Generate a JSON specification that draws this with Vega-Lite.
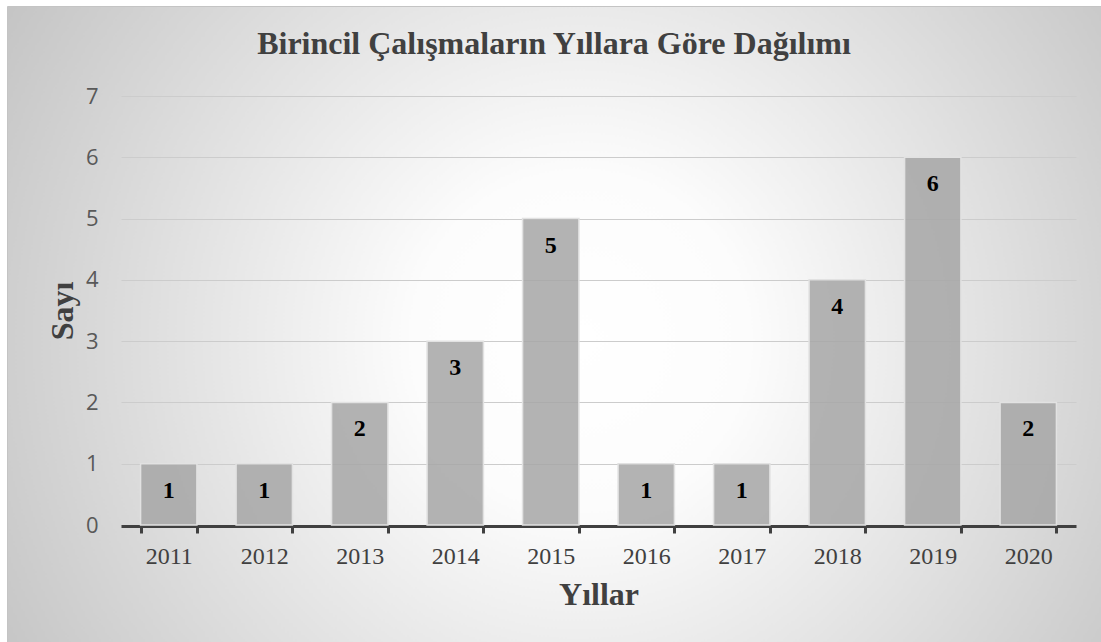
{
  "$schema": "https://vega.github.io/schema/vega-lite/v6.json",
  "autosize": "none",
  "width": 1094,
  "height": 636,
  "padding": {"left": 7, "top": 6, "right": 0, "bottom": 0},
  "background": "#ffffff",
  "view": {
    "fill": {
      "gradient": "radial",
      "x1": 0.524, "y1": 0.515, "r1": 0,
      "x2": 0.524, "y2": 0.515, "r2": 0.61,
      "stops": [
        {"offset": 0, "color": "#ffffff"},
        {"offset": 0.25, "color": "#fcfcfc"},
        {"offset": 1, "color": "#c4c4c4"}
      ]
    },
    "stroke": "#c4c4c4",
    "strokeWidth": 1
  },
  "title": {
    "text": "Birincil Çalışmaların Yıllara Göre Dağılımı",
    "font": "Liberation Serif",
    "fontSize": 32,
    "fontWeight": "bold",
    "color": "#404040",
    "anchor": "middle",
    "baseline": "alphabetic",
    "offset": -80
  },
  "data": {
    "values": [
      {"Yil": "2011", "Sayi": 1},
      {"Yil": "2012", "Sayi": 1},
      {"Yil": "2013", "Sayi": 2},
      {"Yil": "2014", "Sayi": 3},
      {"Yil": "2015", "Sayi": 5},
      {"Yil": "2016", "Sayi": 1},
      {"Yil": "2017", "Sayi": 1},
      {"Yil": "2018", "Sayi": 4},
      {"Yil": "2019", "Sayi": 6},
      {"Yil": "2020", "Sayi": 2}
    ]
  },
  "encoding": {
    "x": {
      "field": "Yil",
      "type": "nominal",
      "sort": null,
      "scale": {"type": "band", "range": [114, 1069], "paddingInner": 0.41, "paddingOuter": 0.205},
      "axis": {
        "title": "Yıllar",
        "orient": "bottom",
        "offset": -116,
        "labelAngle": 0,
        "labelFont": "Liberation Serif",
        "labelFontSize": 24,
        "labelColor": "#404040",
        "labelPadding": 11,
        "domain": true,
        "domainColor": "#404040",
        "domainWidth": 3,
        "ticks": true,
        "tickBand": "extent",
        "tickColor": "#404040",
        "tickWidth": 3,
        "tickSize": 7,
        "grid": false,
        "titleFont": "Liberation Serif",
        "titleFontSize": 32,
        "titleFontWeight": "bold",
        "titleColor": "#404040",
        "titlePadding": 11
      }
    },
    "y": {
      "field": "Sayi",
      "type": "quantitative",
      "scale": {"domain": [0, 7], "range": [519, 90], "nice": false, "zero": true},
      "axis": {
        "title": "Sayı",
        "orient": "left",
        "offset": -114,
        "values": [0, 1, 2, 3, 4, 5, 6, 7],
        "domain": false,
        "ticks": false,
        "tickSize": 0,
        "labelPadding": 23,
        "labelFont": "Open Sans",
        "labelFontSize": 22,
        "labelColor": "#595959",
        "grid": true,
        "gridColor": "#cccccc",
        "gridWidth": 1.2,
        "titleFont": "Liberation Serif",
        "titleFontSize": 32,
        "titleFontWeight": "bold",
        "titleColor": "#404040",
        "titlePadding": 6
      }
    }
  },
  "layer": [
    {
      "mark": {"type": "bar", "fill": "#a6a6a6", "fillOpacity": 0.85, "stroke": "#e2e2e2", "strokeWidth": 1.5}
    },
    {
      "mark": {"type": "text", "font": "Liberation Serif", "fontSize": 24, "fontWeight": "bold", "color": "#000000", "baseline": "middle", "dy": 27},
      "encoding": {"text": {"field": "Sayi", "type": "quantitative"}}
    }
  ]
}
